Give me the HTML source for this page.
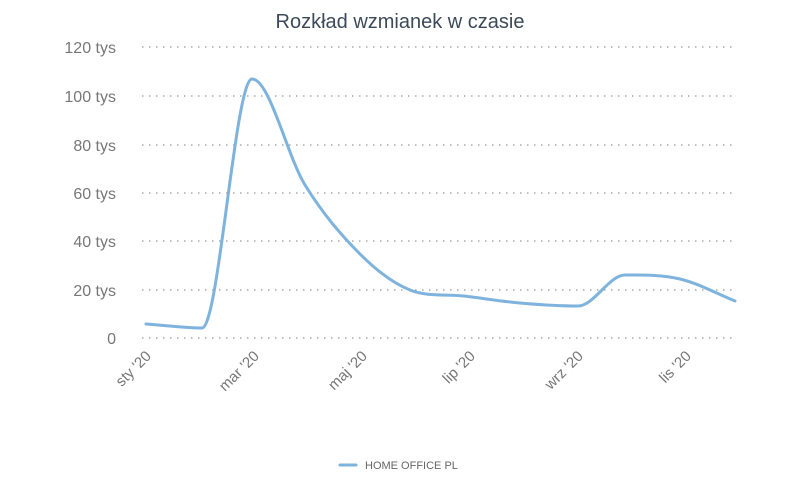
<!DOCTYPE html><html><head><style>body{margin:0;background:#fff}svg{display:block}text{font-family:"Liberation Sans",sans-serif}</style></head><body>
<svg width="800" height="485" xmlns="http://www.w3.org/2000/svg">
<text x="400" y="28" text-anchor="middle" font-size="20" fill="#3d4a5a">Rozkład wzmianek w czasie</text>
<g stroke="#999" stroke-width="1.3" stroke-dasharray="1.5 5.5">
<line x1="142" x2="735" y1="47" y2="47"/><line x1="142" x2="735" y1="96" y2="96"/><line x1="142" x2="735" y1="145" y2="145"/><line x1="142" x2="735" y1="193" y2="193"/><line x1="142" x2="735" y1="241" y2="241"/><line x1="142" x2="735" y1="290" y2="290"/><line x1="142" x2="735" y1="338" y2="338"/>
</g>
<g font-size="16" fill="#777" text-anchor="end">
<text x="116" y="53">120 tys</text><text x="116" y="102">100 tys</text><text x="116" y="151">80 tys</text><text x="116" y="199">60 tys</text><text x="116" y="247">40 tys</text><text x="116" y="296">20 tys</text><text x="116" y="344">0</text>
</g>
<g font-size="15" fill="#777" text-anchor="end">
<text transform="translate(152,357) rotate(-45)">sty '20</text>
<text transform="translate(260,357) rotate(-45)">mar '20</text>
<text transform="translate(368,357) rotate(-45)">maj '20</text>
<text transform="translate(476,357) rotate(-45)">lip '20</text>
<text transform="translate(584,357) rotate(-45)">wrz '20</text>
<text transform="translate(692,357) rotate(-45)">lis '20</text>
</g>
<path fill="none" stroke="#7eb3dd" stroke-width="3" stroke-linejoin="round" stroke-linecap="round" d="M146,324 C164.67,325.3 183.33,328 202,328 C218.67,328 235.33,79 252,79 C269.67,79 287.33,156.5 305,185 C323.67,215.1 342.33,236.3 361,255 C377.33,271.3 393.67,283.5 410,290 C428,297.2 446,293.9 464,296 C482.67,298.2 501.33,301.4 520,303 C539.33,304.7 558.67,306 578,306 C593.67,306 609.33,275 625,275 C643.33,275 661.67,274.7 680,279 C698.33,283.3 716.67,293.7 735,301"/>
<line x1="340" x2="356" y1="465" y2="465" stroke="#7eb3dd" stroke-width="3" stroke-linecap="round"/>
<text x="365" y="469" font-size="11" fill="#666">HOME OFFICE PL</text>
</svg></body></html>
